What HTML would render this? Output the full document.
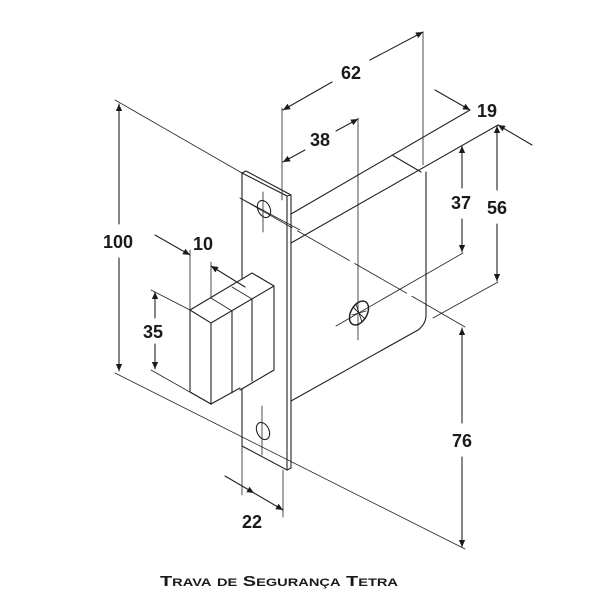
<!DOCTYPE html>
<html><head><meta charset="utf-8"><style>
html,body{margin:0;padding:0;background:#fff;}
svg{display:block}
text{font-family:"Liberation Sans",sans-serif;font-weight:bold;fill:#1a1a1a}
</style></head><body>
<svg width="603" height="603" viewBox="0 0 603 603" xmlns="http://www.w3.org/2000/svg">
<defs>
<marker id="a" viewBox="0 0 10 10" refX="10" refY="5" markerWidth="13" markerHeight="7" orient="auto-start-reverse" markerUnits="userSpaceOnUse"><path d="M0,0.5 L10,5 L0,9.5 z" fill="#1a1a1a"/></marker>
</defs>
<g stroke="#222" stroke-width="1.1" fill="none" stroke-linecap="round">
<path d="M242,173 L287,196 L287,470 L242,446 Z" fill="#fff"/>
<path d="M242,173 L246,171 L291,195 L291,468 L287,470"/>
<line x1="287" y1="196" x2="291" y2="195"/>
<ellipse cx="264" cy="209" rx="6" ry="9" transform="rotate(-25 264 209)"/>
<line x1="263" y1="192" x2="263" y2="232" stroke-width="0.8"/>
<line x1="240" y1="198" x2="300" y2="230" stroke-width="0.8"/>
<ellipse cx="263" cy="431" rx="6" ry="9" transform="rotate(-25 263 431)"/>
<line x1="262" y1="406" x2="262" y2="455" stroke-width="0.8"/>
<line x1="291" y1="214" x2="470" y2="110"/>
<line x1="291" y1="243" x2="498" y2="125"/>
<line x1="392" y1="155" x2="421" y2="172"/>
<path d="M426,172 L426,315 Q426,324 418,330 L291,401"/>
<line x1="415" y1="298" x2="465" y2="327" stroke-width="0.8"/>
<line x1="423" y1="32" x2="423" y2="165" stroke-width="0.8"/>
<line x1="240" y1="198" x2="415" y2="298" stroke-width="0.8" stroke-dasharray="60,6"/>
<ellipse cx="359" cy="313" rx="8" ry="13" transform="rotate(30 359 313)" stroke-width="1.5"/>
<path d="M353,307 L365,319 M356,304 L362,322 M352,315 L366,311" stroke-width="0.9"/>
<line x1="358" y1="118" x2="358" y2="340" stroke-width="0.8"/>
<line x1="336" y1="326" x2="463" y2="253" stroke-width="0.8"/>
<line x1="433" y1="318" x2="498" y2="282" stroke-width="0.8"/>
<path d="M190,310 L252,273 L274,286 L274,370 L240,390 M211,323 L274,286 M190,310 L211,323 L211,404 L190,392 Z M211,404 L240,388" fill="#fff"/>
<line x1="232" y1="311" x2="232" y2="393"/>
<line x1="252" y1="299" x2="252" y2="381"/>
<line x1="211" y1="298" x2="232" y2="311" stroke-width="0.8"/>
<line x1="232" y1="287" x2="252" y2="299" stroke-width="0.8"/>
<line x1="115" y1="100" x2="242" y2="173" stroke-width="0.8"/>
<line x1="115" y1="373" x2="465" y2="549" stroke-width="0.8"/>
<line x1="119" y1="224" x2="119" y2="104" marker-end="url(#a)"/>
<line x1="119" y1="258" x2="119" y2="371" marker-end="url(#a)"/>
<line x1="190" y1="250" x2="190" y2="310" stroke-width="0.8"/>
<line x1="211" y1="262" x2="211" y2="298" stroke-width="0.8"/>
<line x1="155" y1="235" x2="190" y2="255" marker-end="url(#a)"/>
<line x1="245" y1="287" x2="211" y2="266" marker-end="url(#a)"/>
<line x1="151" y1="290" x2="190" y2="310" stroke-width="0.8"/>
<line x1="151" y1="370" x2="211" y2="404" stroke-width="0.8"/>
<line x1="155" y1="318" x2="155" y2="292" marker-end="url(#a)"/>
<line x1="155" y1="344" x2="155" y2="369" marker-end="url(#a)"/>
<line x1="242" y1="446" x2="242" y2="495" stroke-width="0.8"/>
<line x1="283" y1="470" x2="283" y2="517" stroke-width="0.8"/>
<line x1="225" y1="476" x2="254" y2="493" marker-end="url(#a)"/>
<line x1="254" y1="493" x2="283" y2="510" marker-end="url(#a)"/>
<line x1="282" y1="108" x2="282" y2="200" stroke-width="0.8"/>
<line x1="332" y1="82" x2="283" y2="110" marker-end="url(#a)"/>
<line x1="370" y1="60" x2="423" y2="32" marker-end="url(#a)"/>
<line x1="305" y1="150" x2="283" y2="162" marker-end="url(#a)"/>
<line x1="336" y1="131" x2="358" y2="119" marker-end="url(#a)"/>
<line x1="435" y1="90" x2="470" y2="110" marker-end="url(#a)"/>
<line x1="532" y1="145" x2="498" y2="125" marker-end="url(#a)"/>
<line x1="497" y1="190" x2="497" y2="126" marker-end="url(#a)"/>
<line x1="497" y1="224" x2="497" y2="281" marker-end="url(#a)"/>
<line x1="462" y1="188" x2="462" y2="146" marker-end="url(#a)"/>
<line x1="462" y1="219" x2="462" y2="252" marker-end="url(#a)"/>
<line x1="462" y1="423" x2="462" y2="328" marker-end="url(#a)"/>
<line x1="462" y1="457" x2="462" y2="547" marker-end="url(#a)"/>
</g>
<g font-size="18">
<text x="118" y="248" text-anchor="middle">100</text>
<text x="203" y="250" text-anchor="middle">10</text>
<text x="153" y="338" text-anchor="middle">35</text>
<text x="252" y="528" text-anchor="middle">22</text>
<text x="351" y="79" text-anchor="middle">62</text>
<text x="320" y="146" text-anchor="middle">38</text>
<text x="487" y="117" text-anchor="middle">19</text>
<text x="497" y="214" text-anchor="middle">56</text>
<text x="461" y="209" text-anchor="middle">37</text>
<text x="462" y="447" text-anchor="middle">76</text>
</g>
<text x="279" y="586" text-anchor="middle" font-size="15" style="font-variant:small-caps" textLength="238" lengthAdjust="spacingAndGlyphs">Trava de Segurança Tetra</text>
</svg>
</body></html>
